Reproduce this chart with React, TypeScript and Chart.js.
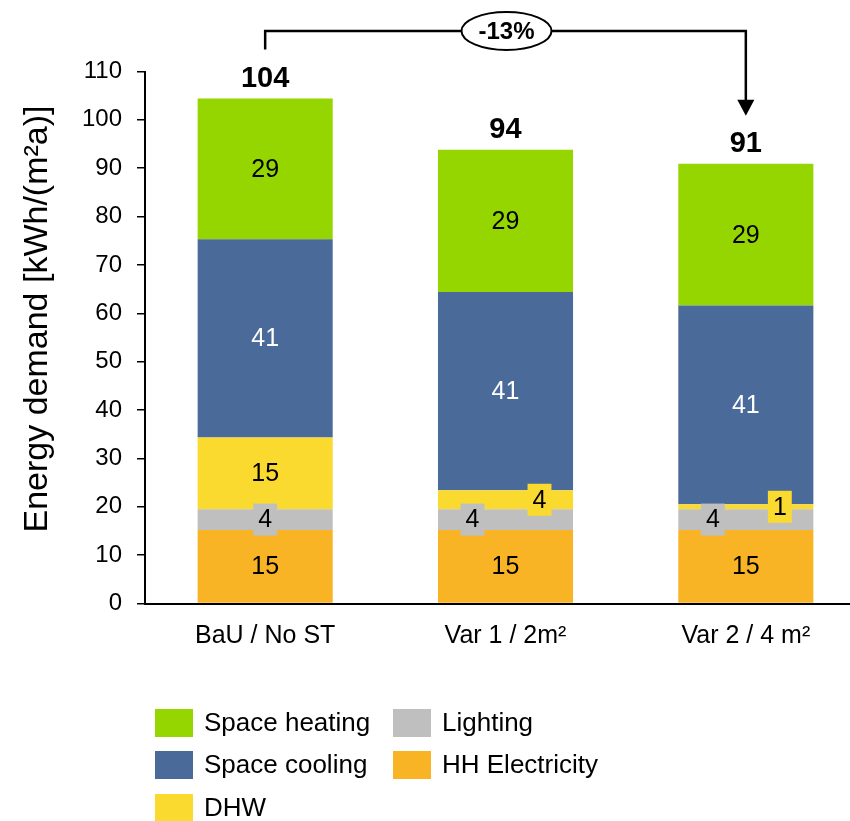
import React, { useEffect, useRef } from 'react';
import { Chart, registerables } from 'chart.js';

Chart.register(...registerables);

// Energy demand per variant, kWh/(m²a)
const categories = ['BaU / No ST', 'Var 1 / 2m²', 'Var 2 / 4 m²'];
const hhElectricity = [15.2, 15.2, 15.2];
const lighting = [4.3, 4.3, 4.3];
const dhw = [14.8, 3.9, 1.0];
const spaceCooling = [41.0, 41.0, 41.1];
const spaceHeating = [29.1, 29.4, 29.3];

const yMax = 110;
const yStep = 10;
const yTitle = 'Energy demand [kWh/(m²a)]';
const changeLabel = '-13%';
const legendOrder = ['Space heating', 'Lighting', 'Space cooling', 'HH Electricity', 'DHW'];

const FONT = '"Liberation Sans", Arial, Helvetica, sans-serif';

const COLORS = {
  heating: '#96D600',
  cooling: '#4A6A99',
  dhw: '#FBDA30',
  lighting: '#BFBFBF',
  hh: '#F8B425',
};

const overlayPlugin = {
  id: 'overlay',
  afterDatasetsDraw(chart: any) {
    const ctx = chart.ctx;
    const datasets = chart.data.datasets;
    ctx.save();
    ctx.font = `25px ${FONT}`;
    ctx.textAlign = 'center';
    ctx.textBaseline = 'middle';
    for (let j = 0; j < categories.length; j++) {
      const bars = datasets.map((_: any, i: number) => chart.getDatasetMeta(i).data[j]);
      const heights = bars.map((b: any) => Math.abs(b.base - b.y));
      // lighting (1) and DHW (2) labels move apart when both segments are thin
      const split = heights[1] < 30 && heights[2] < 30;
      datasets.forEach((ds: any, i: number) => {
        const bar = bars[i];
        const value = ds.data[j];
        const text = String(Math.round(value));
        let cx = bar.x;
        const cy = (bar.y + bar.base) / 2;
        if (split && i === 1) cx -= 33;
        if (split && i === 2) cx += 34;
        if (heights[i] < 32) {
          const w = ctx.measureText(text).width + 10;
          ctx.fillStyle = ds.backgroundColor;
          ctx.fillRect(cx - w / 2, cy - 16, w, 32);
        }
        ctx.fillStyle = ds.labelColor || '#000';
        ctx.fillText(text, cx, cy + 1);
      });
    }
    ctx.restore();
  },
  afterDraw(chart: any) {
    const ctx = chart.ctx;
    const datasets = chart.data.datasets;
    const topMeta = chart.getDatasetMeta(datasets.length - 1);
    ctx.save();

    // totals above each stack
    ctx.font = `bold 29px ${FONT}`;
    ctx.textAlign = 'center';
    ctx.textBaseline = 'alphabetic';
    ctx.fillStyle = '#000';
    const tops: number[] = [];
    for (let j = 0; j < categories.length; j++) {
      const total = datasets.reduce((s: number, ds: any) => s + ds.data[j], 0);
      const bar = topMeta.data[j];
      tops.push(bar.y);
      ctx.fillText(String(Math.round(total)), bar.x, bar.y - 12);
    }

    // change bracket from first to last variant
    const x1 = topMeta.data[0].x;
    const x3 = topMeta.data[categories.length - 1].x;
    const y1 = tops[0] - 49;
    const yTip = tops[categories.length - 1] - 48;
    const yTop = 31;
    ctx.strokeStyle = '#000';
    ctx.lineWidth = 2.5;
    ctx.beginPath();
    ctx.moveTo(x1, y1);
    ctx.lineTo(x1, yTop);
    ctx.lineTo(x3, yTop);
    ctx.lineTo(x3, yTip - 15);
    ctx.stroke();
    ctx.fillStyle = '#000';
    ctx.beginPath();
    ctx.moveTo(x3 - 8.5, yTip - 16);
    ctx.lineTo(x3 + 8.5, yTip - 16);
    ctx.lineTo(x3, yTip);
    ctx.closePath();
    ctx.fill();

    const ex = (x1 + x3) / 2 + 1;
    ctx.beginPath();
    ctx.ellipse(ex, yTop, 45, 19, 0, 0, Math.PI * 2);
    ctx.fillStyle = '#fff';
    ctx.fill();
    ctx.lineWidth = 2;
    ctx.stroke();
    ctx.fillStyle = '#000';
    ctx.font = `bold 24px ${FONT}`;
    ctx.textBaseline = 'middle';
    ctx.fillText(changeLabel, ex, yTop + 1);

    // y axis title
    ctx.save();
    ctx.translate(38, 319);
    ctx.rotate(-Math.PI / 2);
    ctx.font = `34px ${FONT}`;
    ctx.textAlign = 'center';
    ctx.textBaseline = 'middle';
    ctx.fillText(yTitle, 0, 0);
    ctx.restore();

    // legend in two columns
    const colX = [155, 393];
    const rowY = [709, 751, 794];
    ctx.font = `26px ${FONT}`;
    ctx.textAlign = 'left';
    ctx.textBaseline = 'middle';
    legendOrder.forEach((name, k) => {
      const ds = datasets.find((d: any) => d.label === name);
      if (!ds) return;
      const x = colX[k % 2];
      const y = rowY[Math.floor(k / 2)];
      ctx.fillStyle = ds.backgroundColor;
      ctx.fillRect(x, y, 38, 28);
      ctx.fillStyle = '#000';
      ctx.fillText(name, x + 49, y + 15);
    });

    ctx.restore();
  },
};

export default function App() {
  const canvasRef = useRef<HTMLCanvasElement | null>(null);

  useEffect(() => {
    if (!canvasRef.current) return;
    const chart = new Chart(canvasRef.current, {
      type: 'bar',
      data: {
        labels: categories,
        datasets: [
          { label: 'HH Electricity', data: hhElectricity, backgroundColor: COLORS.hh },
          { label: 'Lighting', data: lighting, backgroundColor: COLORS.lighting },
          { label: 'DHW', data: dhw, backgroundColor: COLORS.dhw },
          { label: 'Space cooling', data: spaceCooling, backgroundColor: COLORS.cooling, labelColor: '#fff' } as any,
          { label: 'Space heating', data: spaceHeating, backgroundColor: COLORS.heating },
        ],
      },
      options: {
        responsive: false,
        animation: false,
        devicePixelRatio: 1,
        layout: { padding: { left: 0, right: 14, top: 71.5, bottom: 0 } },
        datasets: {
          bar: { barPercentage: 0.562, categoryPercentage: 1, borderWidth: 0 },
        },
        plugins: {
          legend: { display: false },
          tooltip: { enabled: false },
          title: { display: false },
        },
        scales: {
          x: {
            stacked: true,
            offset: true,
            grid: { display: false },
            border: { display: true, color: '#000', width: 2 },
            ticks: { color: '#000', font: { family: FONT, size: 25 }, padding: 10, maxRotation: 0 },
            afterFit: (s: any) => { s.height = 217.5; },
          },
          y: {
            stacked: true,
            min: 0,
            max: yMax,
            grid: { drawOnChartArea: false, drawTicks: true, tickLength: 8, color: '#000', lineWidth: 1.5 },
            border: { display: true, color: '#000', width: 2 },
            ticks: { stepSize: yStep, color: '#000', font: { family: FONT, size: 24 }, padding: 15 },
            afterFit: (s: any) => { s.width = 145; },
          },
        },
      },
      plugins: [overlayPlugin],
    });
    return () => chart.destroy();
  }, []);

  return (
    <div style={{ position: 'absolute', left: 0, top: 0, width: 850, height: 821, overflow: 'hidden', background: '#fff' }}>
      <canvas ref={canvasRef} width={880} height={821} style={{ display: 'block' }} />
    </div>
  );
}
